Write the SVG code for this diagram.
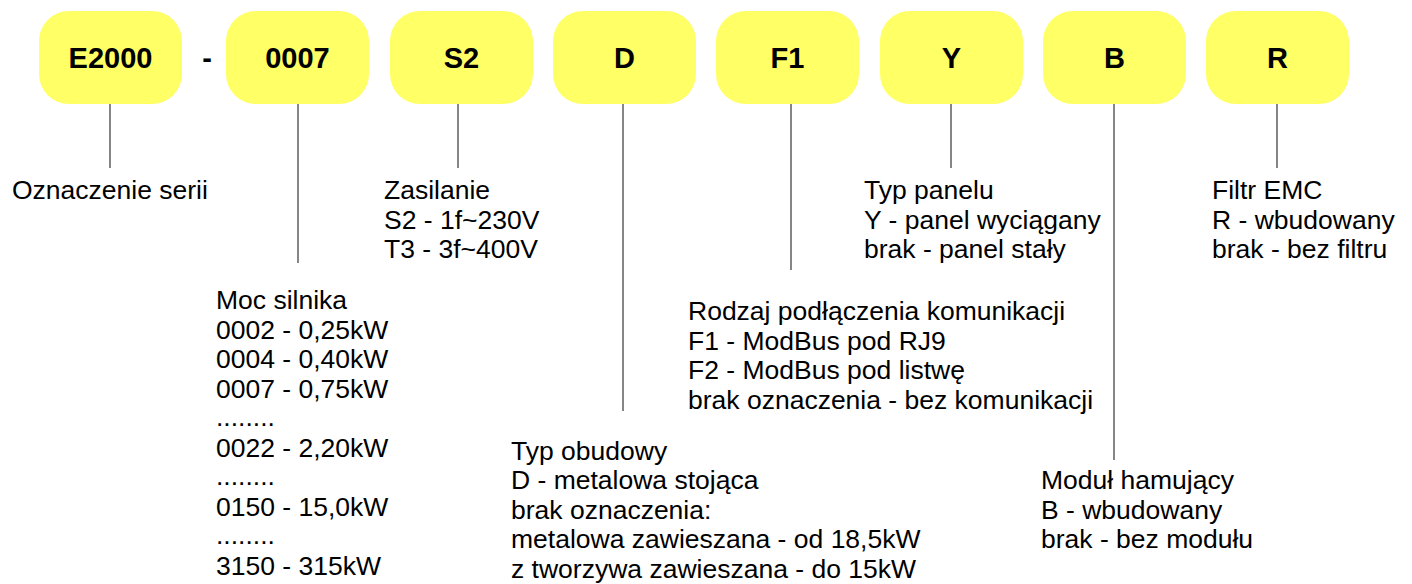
<svg xmlns="http://www.w3.org/2000/svg" width="1412" height="584" viewBox="0 0 1412 584">
<style>
.box{fill:#ffff66}
.bt{font-family:"Liberation Sans",Arial,sans-serif;font-weight:bold;font-size:29px;text-anchor:middle;fill:#000}
.t{font-family:"Liberation Sans",Arial,sans-serif;font-size:26.5px;fill:#000}
.ln{stroke:#444;stroke-width:1.3;fill:none}
</style>
<rect width="1412" height="584" fill="#fff"/>
<g id="n-e2000"><rect class="box" x="39" y="11" width="143" height="93" rx="30"/><text class="bt" x="110.5" y="68">E2000</text></g>
<text class="bt" x="207" y="68">-</text>
<g id="n-0007"><rect class="box" x="226" y="11" width="143" height="93" rx="30"/><text class="bt" x="297.5" y="68">0007</text></g>
<g id="n-s2"><rect class="box" x="390" y="11" width="143" height="93" rx="30"/><text class="bt" x="461.5" y="68">S2</text></g>
<g id="n-d"><rect class="box" x="553" y="11" width="143" height="93" rx="30"/><text class="bt" x="624.5" y="68">D</text></g>
<g id="n-f1"><rect class="box" x="716" y="11" width="143" height="93" rx="30"/><text class="bt" x="787.5" y="68">F1</text></g>
<g id="n-y"><rect class="box" x="880" y="11" width="143" height="93" rx="30"/><text class="bt" x="951.5" y="68">Y</text></g>
<g id="n-b"><rect class="box" x="1043" y="11" width="143" height="93" rx="30"/><text class="bt" x="1114.5" y="68">B</text></g>
<g id="n-r"><rect class="box" x="1206" y="11" width="143" height="93" rx="30"/><text class="bt" x="1277.5" y="68">R</text></g>
<g id="connectors">
<line class="ln" x1="110" y1="104" x2="110" y2="168"/>
<line class="ln" x1="298" y1="104" x2="298" y2="263"/>
<line class="ln" x1="458" y1="104" x2="458" y2="168"/>
<line class="ln" x1="623" y1="104" x2="623" y2="411"/>
<line class="ln" x1="791" y1="104" x2="791" y2="270"/>
<line class="ln" x1="951" y1="104" x2="951" y2="168"/>
<line class="ln" x1="1114" y1="104" x2="1114" y2="460"/>
<line class="ln" x1="1277" y1="104" x2="1277" y2="168"/>
</g>
<g id="l-seria"><text class="t" x="12" y="199">Oznaczenie serii</text></g>
<g id="l-moc"><text class="t" x="216">
<tspan x="216" y="309">Moc silnika</tspan>
<tspan x="216" y="338.5">0002 - 0,25kW</tspan>
<tspan x="216" y="368">0004 - 0,40kW</tspan>
<tspan x="216" y="397.5">0007 - 0,75kW</tspan>
<tspan x="216" y="426">........</tspan>
<tspan x="216" y="456.5">0022 - 2,20kW</tspan>
<tspan x="216" y="485">........</tspan>
<tspan x="216" y="515.5">0150 - 15,0kW</tspan>
<tspan x="216" y="544">........</tspan>
<tspan x="216" y="574.5">3150 - 315kW</tspan>
</text></g>
<g id="l-zas"><text class="t">
<tspan x="384" y="199">Zasilanie</tspan>
<tspan x="384" y="228.5">S2 - 1f~230V</tspan>
<tspan x="384" y="258">T3 - 3f~400V</tspan>
</text></g>
<g id="l-obud"><text class="t">
<tspan x="511" y="460">Typ obudowy</tspan>
<tspan x="511" y="489">D - metalowa stojąca</tspan>
<tspan x="511" y="518.5">brak oznaczenia:</tspan>
<tspan x="511" y="548">metalowa zawieszana - od 18,5kW</tspan>
<tspan x="511" y="577.5">z tworzywa zawieszana - do 15kW</tspan>
</text></g>
<g id="l-kom"><text class="t">
<tspan x="688" y="320">Rodzaj podłączenia komunikacji</tspan>
<tspan x="688" y="349.5">F1 - ModBus pod RJ9</tspan>
<tspan x="688" y="379">F2 - ModBus pod listwę</tspan>
<tspan x="688" y="408.5">brak oznaczenia - bez komunikacji</tspan>
</text></g>
<g id="l-panel"><text class="t">
<tspan x="864" y="199">Typ panelu</tspan>
<tspan x="864" y="228.5">Y - panel wyciągany</tspan>
<tspan x="864" y="258">brak - panel stały</tspan>
</text></g>
<g id="l-ham"><text class="t">
<tspan x="1041" y="489">Moduł hamujący</tspan>
<tspan x="1041" y="518.5">B - wbudowany</tspan>
<tspan x="1041" y="548">brak - bez modułu</tspan>
</text></g>
<g id="l-emc"><text class="t">
<tspan x="1212" y="199">Filtr EMC</tspan>
<tspan x="1212" y="228.5">R - wbudowany</tspan>
<tspan x="1212" y="258">brak - bez filtru</tspan>
</text></g>
</svg>
